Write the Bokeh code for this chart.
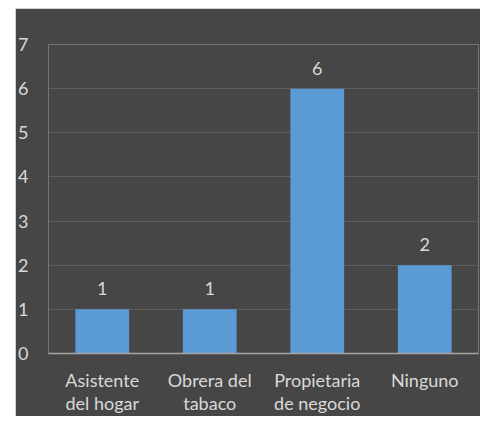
from bokeh.plotting import figure
from bokeh.models import ColumnDataSource, FixedTicker, Spacer
from bokeh.layouts import row, column
from bokeh.core.properties import value
from bokeh.embed import file_html
from bokeh.resources import INLINE

categories = ["Asistente\ndel hogar", "Obrera del\ntabaco", "Propietaria\nde negocio", "Ninguno"]
counts = [1, 1, 6, 2]
y_ticks = [0, 1, 2, 3, 4, 5, 6, 7]

BG = "#464646"
TXT = "#d9d9d9"
FONT = "Lato"

src = ColumnDataSource(dict(cat=categories, val=counts, lab=[str(v) for v in counts]))

p = figure(x_range=categories, y_range=(0, 7), frame_width=430, frame_height=309,
           output_backend="svg", toolbar_location=None,
           min_border_left=33, min_border_right=2, min_border_top=36, min_border_bottom=60)
p.background_fill_color = BG
p.border_fill_color = BG
p.outline_line_color = None

p.vbar(x="cat", top="val", width=0.5, source=src, fill_color="#5B9BD5", line_color=None)
p.text(x="cat", y="val", text="lab", source=src, text_align="center", text_baseline="bottom",
       y_offset=-14, text_color=TXT, text_font=value(FONT), text_font_size="18px")

p.xgrid.grid_line_color = None
p.ygrid.grid_line_color = "#5e5e5e"
p.ygrid.grid_line_width = 1.2

p.yaxis.ticker = FixedTicker(ticks=y_ticks)
p.yaxis.axis_line_color = None
p.yaxis.major_tick_line_color = None
p.yaxis.minor_tick_line_color = None
p.yaxis.major_label_standoff = 14
p.yaxis.major_label_text_color = TXT
p.yaxis.major_label_text_font = FONT
p.yaxis.major_label_text_font_size = "18px"

p.xaxis.axis_line_color = "#a6a6a6"
p.xaxis.axis_line_width = 1.5
p.xaxis.major_tick_line_color = None
p.xaxis.minor_tick_line_color = None
p.xaxis.major_label_standoff = 9
p.xaxis.major_label_text_color = TXT
p.xaxis.major_label_text_font = FONT
p.xaxis.major_label_text_font_size = "18px"
p.xaxis.major_label_text_line_height = 1.05

layout = column(Spacer(width=480, height=8), row(Spacer(width=15, height=300), p))
open("out.html", "w").write(file_html(layout, INLINE))
